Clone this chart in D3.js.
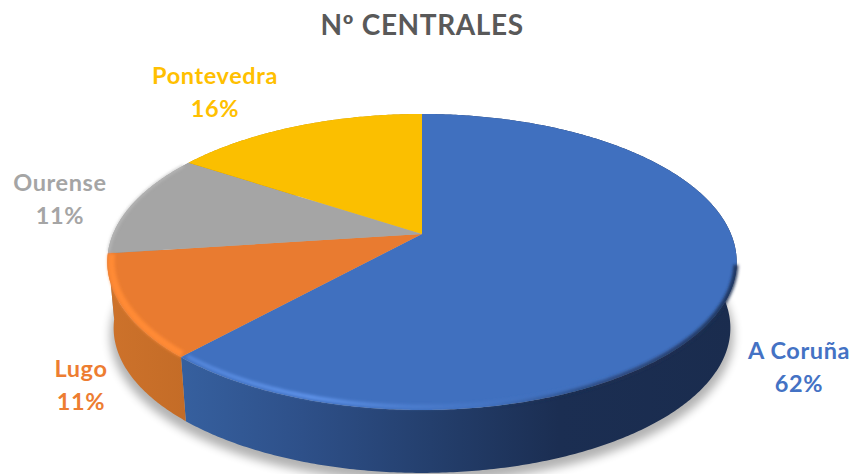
<!DOCTYPE html>
<html>
<head>
<meta charset="utf-8">
<style>
  html, body { margin: 0; padding: 0; background: #fff; }
  svg { display: block; }
  text { font-family: Lato, sans-serif; font-weight: 700; text-anchor: middle; letter-spacing: 0.6px; }
</style>
<script src="https://cdn.jsdelivr.net/npm/d3@7"></script>
</head>
<body>
<div id="chart"></div>
<script>
'use strict'

const title = 'Nº CENTRALES'
const categories = ['A Coruña', 'Lugo', 'Ourense', 'Pontevedra']
const shares = [61.7, 11.2, 11.4, 15.7]
const faceColors = ['#4070bf', '#e97b30', '#a5a5a5', '#fbbf00']
const labelColors = ['#4472c4', '#ed7d31', '#a5a5a5', '#ffc000']

const width = 853
const height = 474

/*** Perspective of the disc ***/

const cx = 422
const cy = 234
const rx = 309
const ry = 142.7
const persp = 0.189
const depthY = 300.5
const depthScale = 0.98

function project (angle, r, floor) {
  const u = r * Math.sin(angle)
  const v = -r * Math.cos(angle)
  const w = 1 - persp * v
  const s = floor ? depthScale : 1
  return [cx + s * rx * u / w, (floor ? depthY : cy) + s * ry * v / w]
}

function rim (a0, a1, r, floor) {
  const steps = Math.max(2, Math.ceil(Math.abs(a1 - a0) / 0.01))
  return d3.range(steps + 1).map(i => project(a0 + (a1 - a0) * i / steps, r, floor))
}

const line = d3.line()
const deg = d => d * Math.PI / 180

const slices = d3.pie().sort(null).value(d => d)(shares)

const svg = d3.select('#chart').append('svg')
  .attr('width', width)
  .attr('height', height)

const defs = svg.append('defs')

function blur (id, dev) {
  defs.append('filter').attr('id', id)
    .attr('x', '-20%').attr('y', '-20%').attr('width', '140%').attr('height', '140%')
    .append('feGaussianBlur').attr('stdDeviation', dev)
}
blur('shadow', 5)
blur('soft', 1.8)

function gradient (id, x1, x2, stops) {
  const g = defs.append('linearGradient').attr('id', id)
    .attr('gradientUnits', 'userSpaceOnUse')
    .attr('x1', x1).attr('x2', x2).attr('y1', 0).attr('y2', 0)
  stops.forEach(s => {
    g.append('stop').attr('offset', s[0]).attr('stop-color', s[1]).attr('stop-opacity', s[2] === undefined ? 1 : s[2])
  })
}

gradient('wall0', 180, 737, [[0, '#36609f'], [0.22, '#2e5089'], [0.45, '#243f6d'], [0.68, '#1b2e52'], [1, '#1a2c4e']])
gradient('wall1', 108, 185, [[0, '#cd722b'], [1, '#c46c27']])
gradient('wall2', 100, 190, [[0, '#8f8f8f'], [1, '#8f8f8f']])
gradient('wall3', 100, 190, [[0, '#c09000'], [1, '#c09000']])
gradient('shine0', 180, 620, [[0, '#5f93ea', 0.6], [0.3, '#5f93ea', 1], [0.6, '#4d7fd0', 0.6], [1, '#4070bf', 0]])
gradient('edge0', 480, 737, [[0, '#1b2e52', 0], [0.4, '#1b2e52', 0.5], [1, '#1b2e52', 0.9]])

/*** Shadow under the disc ***/

svg.append('path')
  .attr('d', line(rim(0, 2 * Math.PI, 1.01, true)) + 'Z')
  .attr('transform', 'translate(0,7)')
  .attr('fill', '#000')
  .attr('opacity', 0.3)
  .attr('filter', 'url(#shadow)')

/*** Walls ***/

const drawOrder = [3, 2, 0, 1]

svg.append('g').selectAll('path')
  .data(drawOrder.map(i => slices[i]))
  .join('path')
  .attr('d', d => {
    const top = rim(d.startAngle, d.endAngle, 1, false)
    const bottom = rim(d.endAngle, d.startAngle, 1, true)
    return line(top.concat(bottom)) + 'Z'
  })
  .attr('fill', d => `url(#wall${d.index})`)

/*** Top face ***/

svg.append('g').selectAll('path')
  .data(slices)
  .join('path')
  .attr('d', d => line([[cx, cy]].concat(rim(d.startAngle, d.endAngle, 1, false))) + 'Z')
  .attr('fill', (d, i) => faceColors[i])

/*** Bevel along the rim ***/

const bevel = svg.append('g').attr('fill', 'none').attr('filter', 'url(#soft)')

bevel.append('path')
  .attr('d', line(rim(deg(102), deg(175), 0.998, false)))
  .attr('stroke', 'url(#edge0)')
  .attr('stroke-width', 5)

bevel.append('path')
  .attr('d', line(rim(slices[0].endAngle - 0.01, deg(145), 0.985, false)))
  .attr('stroke', 'url(#shine0)')
  .attr('stroke-width', 4)

bevel.append('path')
  .attr('d', line(rim(slices[1].startAngle + 0.01, slices[1].endAngle - 0.005, 0.988, false)))
  .attr('stroke', '#ff8a35')
  .attr('stroke-width', 7)

bevel.append('path')
  .attr('d', line(rim(slices[2].startAngle + 0.01, slices[2].endAngle - 0.03, 0.998, false)))
  .attr('stroke', '#bdbdbd')
  .attr('stroke-width', 2)

/*** Title and labels ***/

svg.append('text')
  .attr('x', 422)
  .attr('y', 35)
  .attr('font-size', 28)
  .attr('fill', '#595959')
  .text(title)

const labelAnchors = [[799, 359], [81, 377], [60, 191], [215, 84]]
const lineGap = 32.5

const labels = svg.append('g').attr('font-size', 23.5).selectAll('g')
  .data(categories)
  .join('g')
  .attr('fill', (d, i) => labelColors[i])

labels.append('text')
  .attr('x', (d, i) => labelAnchors[i][0])
  .attr('y', (d, i) => labelAnchors[i][1])
  .text(d => d)

labels.append('text')
  .attr('x', (d, i) => labelAnchors[i][0])
  .attr('y', (d, i) => labelAnchors[i][1] + lineGap)
  .text((d, i) => `${Math.round(shares[i])}%`)
</script>
</body>
</html>
